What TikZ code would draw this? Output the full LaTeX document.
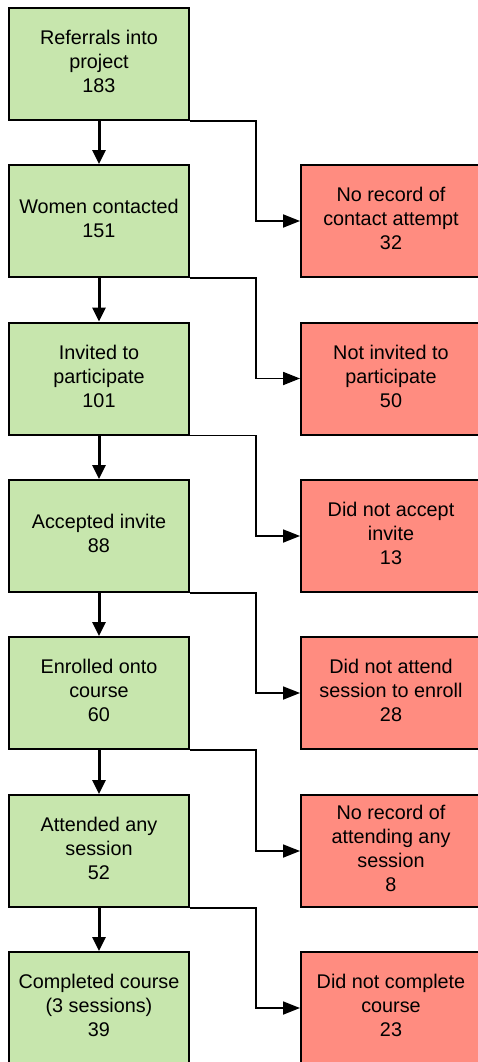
\documentclass[tikz,border=0pt]{standalone}
\usepackage{fontspec}
\setmainfont{Liberation Sans}
\usetikzlibrary{arrows.meta,positioning}
\definecolor{passgreen}{RGB}{199,230,173}
\definecolor{dropred}{RGB}{255,140,128}
\tikzset{stage/.style={draw=black,line width=2pt,fill=passgreen,minimum width=180pt,minimum height=112pt,
			align=center,inner sep=2pt,text depth=5pt,font=\fontsize{19.8}{24}\selectfont},
	drop/.style={stage,fill=dropred},
	down/.style={line width=3pt,-{Triangle[length=14pt,width=13pt]}},
	side/.style={line width=1.8pt,-{Triangle[length=17pt,width=13pt]}}}

\begin{document}
\begin{tikzpicture}[x=1pt,y=-1pt]
				\useasboundingbox (0,0) rectangle (478,1062);
				\clip (0,0) rectangle (478,1062);
				\node[stage] (g1) at (99,64) {Referrals into\\project\\183};
				\node[stage] (g2) at (99,221) {Women contacted\\151};
				\node[stage] (g3) at (99,378.5) {Invited to\\participate\\101};
				\node[stage] (g4) at (99,536) {Accepted invite\\88};
				\node[stage] (g5) at (99,693) {Enrolled onto\\course\\60};
				\node[stage] (g6) at (99,851) {Attended any\\session\\52};
				\node[stage] (g7) at (99,1008) {Completed course\\(3 sessions)\\39};
				\node[drop] (r1) at (391,221) {No record of\\contact attempt\\32};
				\node[drop] (r2) at (391,378.5) {Not invited to\\participate\\50};
				\node[drop] (r3) at (391,536) {Did not accept\\invite\\13};
				\node[drop] (r4) at (391,693) {Did not attend\\session to enroll\\28};
				\node[drop] (r5) at (391,851) {No record of\\attending any\\session\\8};
				\node[drop] (r6) at (391,1008) {Did not complete\\course\\23};
				% main line
				\draw[down] (g1) -- (g2);
				\draw[down] (g2) -- (g3);
				\draw[down] (g3) -- (g4);
				\draw[down] (g4) -- (g5);
				\draw[down] (g5) -- (g6);
				\draw[down] (g6) -- (g7);
				% drop outs
				\draw[side] (g1.south east) -- ++(66,0) |- (r1.west);
				\draw[side] (g2.south east) -- ++(66,0) |- (r2.west);
				\draw[side] (g3.south east) -- ++(66,0) |- (r3.west);
				\draw[side] (g4.south east) -- ++(66,0) |- (r4.west);
				\draw[side] (g5.south east) -- ++(66,0) |- (r5.west);
				\draw[side] (g6.south east) -- ++(66,0) |- (r6.west);
			\end{tikzpicture}
\end{document}
